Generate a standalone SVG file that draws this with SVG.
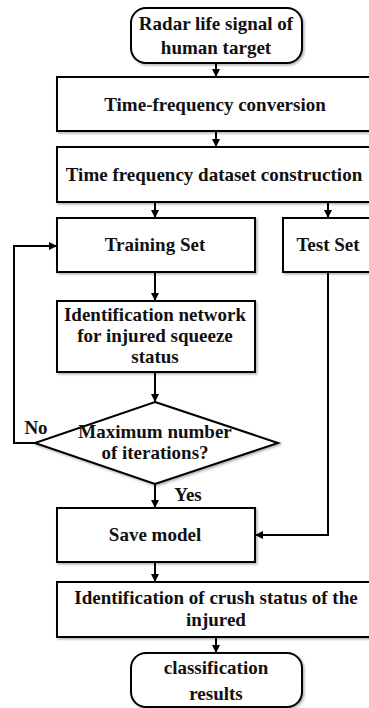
<svg xmlns="http://www.w3.org/2000/svg" width="369" height="708" viewBox="0 0 369 708">
<defs>
<marker id="ah" viewBox="0 0 10 10" refX="10" refY="5" markerWidth="4.2" markerHeight="4.2" orient="auto" markerUnits="strokeWidth">
<path d="M0,0 L10,5 L0,10 z" fill="#000"/>
</marker>
<filter id="sh" x="-10%" y="-10%" width="130%" height="130%">
<feDropShadow dx="1.5" dy="1.5" stdDeviation="1" flood-color="#000" flood-opacity="0.3"/>
</filter>
</defs>
<style>
.n{fill:#fff;stroke:#000;stroke-width:2;filter:url(#sh)}
.t{font-family:"Liberation Serif","Times New Roman",serif;font-weight:bold;font-size:19px;fill:#111;text-anchor:middle}
.c{fill:none;stroke:#000;stroke-width:2;marker-end:url(#ah)}
</style>
<rect width="369" height="708" fill="#fff"/>
<g id="start">
<rect class="n" x="131" y="8" width="171" height="55" rx="15"/>
<text class="t" x="216" y="30">Radar life signal of</text>
<text class="t" x="216" y="54">human target</text>
</g>
<g id="tfconv">
<rect class="n" x="57" y="77" width="316" height="54"/>
<text class="t" x="215" y="111">Time-frequency conversion</text>
</g>
<g id="dataset">
<rect class="n" x="57" y="147" width="316" height="55"/>
<text class="t" x="214" y="181">Time frequency dataset construction</text>
</g>
<g id="train">
<rect class="n" x="57" y="218" width="198" height="54"/>
<text class="t" x="155" y="251">Training Set</text>
</g>
<g id="test">
<rect class="n" x="283" y="218" width="90" height="54"/>
<text class="t" x="328" y="251">Test Set</text>
</g>
<g id="network">
<rect class="n" x="57" y="301" width="198" height="71"/>
<text class="t" x="155" y="321">Identification network</text>
<text class="t" x="155" y="342">for injured squeeze</text>
<text class="t" x="155" y="363">status</text>
</g>
<g id="decision">
<polygon class="n" points="155,402 278,443 155,484 35,443"/>
<text class="t" x="155" y="438">Maximum number</text>
<text class="t" x="155" y="459">of iterations?</text>
</g>
<g id="save">
<rect class="n" x="57" y="508" width="198" height="54"/>
<text class="t" x="155" y="541">Save model</text>
</g>
<g id="crush">
<rect class="n" x="57" y="582" width="316" height="55"/>
<text class="t" x="216" y="604">Identification of crush status of the</text>
<text class="t" x="216" y="626">injured</text>
</g>
<g id="end">
<rect class="n" x="131" y="653" width="171" height="54" rx="15"/>
<text class="t" x="216" y="674">classification</text>
<text class="t" x="216" y="700">results</text>
</g>
<g id="connectors">
<path class="c" d="M216,63 V77"/>
<path class="c" d="M216,131 V147"/>
<path class="c" d="M155,202 V218"/>
<path class="c" d="M328,202 V218"/>
<path class="c" d="M155,272 V301"/>
<path class="c" d="M155,372 V402"/>
<path class="c" d="M35,443 H14 V246 H57"/>
<path class="c" d="M155,484 V508"/>
<path class="c" d="M328,272 V535 H255"/>
<path class="c" d="M155,562 V582"/>
<path class="c" d="M216,637 V653"/>
<text class="t" x="36" y="434">No</text>
<text class="t" x="188" y="501">Yes</text>
</g>
</svg>
